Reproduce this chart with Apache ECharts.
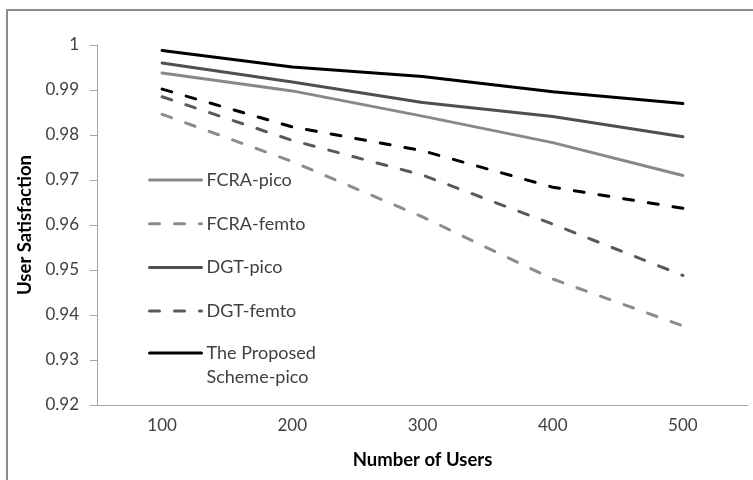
<!DOCTYPE html>
<html>
<head>
<meta charset="utf-8">
<script src="https://cdn.jsdelivr.net/npm/echarts@6/dist/echarts.min.js"></script>
<style>
html,body{margin:0;padding:0;background:#fff;}
#frame{position:absolute;left:6px;top:9px;width:760px;height:480px;border-top:2px solid #8c8c8c;border-left:2px solid #8c8c8c;pointer-events:none;}
#chart{position:absolute;left:0;top:0;width:753px;height:480px;}
</style>
</head>
<body>
<div id="chart"></div>
<div id="frame"></div>
<script>
const categories = ['100', '200', '300', '400', '500'];
const yTicks = [0.92, 1.0, 0.01]; // min, max, interval
const fcraPico = [0.9938, 0.9898, 0.9842, 0.9783, 0.9710];
const fcraFemto = [0.9846, 0.9741, 0.9618, 0.9480, 0.9376];
const dgtPico = [0.9960, 0.9918, 0.9872, 0.9841, 0.9796];
const dgtFemto = [0.9885, 0.9788, 0.9711, 0.9602, 0.9488];
const proposedPico = [0.9988, 0.9951, 0.9930, 0.9896, 0.9870];
const proposedFemto = [0.9902, 0.9818, 0.9765, 0.9684, 0.9637];

const FONT = 'Lato';
const chart = echarts.init(document.getElementById('chart'));
const dash = [10, 15];
function s(name, data, color, dashed) {
  return {
    name: name, type: 'line', data: data, symbol: 'circle', showSymbol: false, smooth: false,
    lineStyle: { color: color, width: 3, type: dashed ? dash : 'solid', cap: 'round' },
    itemStyle: { color: color },
    emphasis: { disabled: true }, z: 3
  };
}
const legendCommon = {
  orient: 'vertical', left: 148, padding: 0,
  itemWidth: 52, itemHeight: 14,
  itemStyle: { opacity: 0 },
  lineStyle: { width: 3 }
};
chart.setOption({
  animation: false,
  textStyle: { fontFamily: FONT },
  grid: { left: 97, right: 5, top: 45, bottom: 75 },
  legend: [Object.assign({}, legendCommon, {
    data: ['FCRA-pico', 'FCRA-femto', 'DGT-pico', 'DGT-femto'],
    top: 171, itemGap: 25.7,
    textStyle: { fontFamily: FONT, fontSize: 18, color: '#404040', lineHeight: 14 }
  }), Object.assign({}, legendCommon, {
    data: ['The Proposed\nScheme-pico'],
    top: 317,
    formatter: function (name) { return ' \n' + name; },
    textStyle: { fontFamily: FONT, fontSize: 18, color: '#404040', lineHeight: 24 }
  })],
  xAxis: {
    type: 'category', data: categories, boundaryGap: true,
    name: 'Number of Users', nameLocation: 'middle', nameGap: 46,
    nameTextStyle: { fontFamily: FONT, fontSize: 18.5, fontWeight: 'bold', color: '#000' },
    axisLine: { lineStyle: { color: '#a6a6a6', width: 1 } },
    axisTick: { inside: true, length: 7, lineStyle: { color: '#a6a6a6' } },
    axisLabel: { fontFamily: FONT, fontSize: 17, color: '#404040', margin: 12 }
  },
  yAxis: {
    type: 'value', min: yTicks[0], max: yTicks[1], interval: yTicks[2],
    name: 'User Satisfaction', nameLocation: 'middle', nameGap: 62, nameRotate: 90,
    nameTextStyle: { fontFamily: FONT, fontSize: 18.5, fontWeight: 'bold', color: '#000' },
    axisLine: { show: true, lineStyle: { color: '#a6a6a6', width: 1 } },
    axisTick: { show: true, inside: false, length: 7, lineStyle: { color: '#a6a6a6' } },
    splitLine: { show: false },
    axisLabel: { fontFamily: FONT, fontSize: 17, color: '#404040', margin: 18,
      formatter: function (v) { return String(+v.toFixed(2)); } }
  },
  series: [
    s('FCRA-pico', fcraPico, '#888888', false),
    s('FCRA-femto', fcraFemto, '#8c8c8c', true),
    s('DGT-pico', dgtPico, '#4f4f4f', false),
    s('DGT-femto', dgtFemto, '#595959', true),
    s('The Proposed\nScheme-pico', proposedPico, '#000000', false),
    s('The Proposed Scheme-femto', proposedFemto, '#000000', true)
  ]
});
</script>
</body>
</html>
